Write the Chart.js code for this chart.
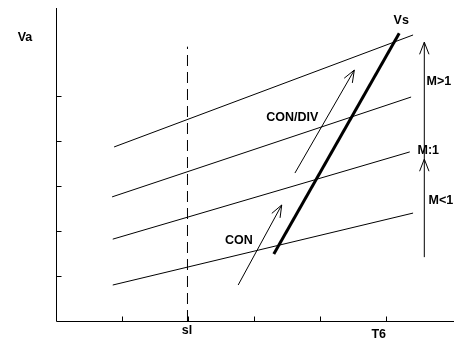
<!DOCTYPE html>
<html>
<head>
<meta charset="utf-8">
<script src="https://cdn.jsdelivr.net/npm/chart.js@4/dist/chart.umd.min.js"></script>
<style>
html,body{margin:0;padding:0;background:#fff;}
#c{display:block;}
</style>
</head>
<body>
<canvas id="c" width="466" height="357"></canvas>
<script>
// ---- data ----
const xMax = 6.03, yMax = 6.96;
const xTicks = [1, 2, 3, 4, 5];
const yTicks = [1, 2, 3, 4, 5];

const machLine1X = [0.88, 5.41], machLine1Y = [3.87, 6.36];
const machLine2X = [0.85, 5.38], machLine2Y = [2.76, 4.98];
const machLine3X = [0.86, 5.36], machLine3Y = [1.82, 3.76];
const machLine4X = [0.86, 5.41], machLine4Y = [0.80, 2.40];
const vsX = [3.30, 5.20], vsY = [1.49, 6.40];
const conArrowX = [2.76, 3.42], conArrowY = [0.80, 2.58];
const conDivArrowX = [3.62, 4.52], conDivArrowY = [3.29, 5.58];
const machArrowX = [5.58, 5.58, 5.58], machArrowY = [1.42, 3.60, 6.20];
const slX = [1.992, 1.992], slY = [0, 6.10];

const labelTexts = ['Va', 'Vs', 'M>1', 'M:1', 'M<1', 'CON/DIV', 'CON', 'sl', 'T6'];
const labelX = [-0.47, 5.23, 5.80, 5.64, 5.83, 3.58, 2.77, 1.985, 4.89];
const labelY = [6.31, 6.69, 5.33, 3.78, 2.67, 4.53, 1.80, -0.22, -0.31];

// ---- build datasets ----
function pts(xs, ys) { return xs.map((x, i) => ({x: x, y: ys[i]})); }
function seg(xs, ys, extra) {
  return Object.assign({
    data: pts(xs, ys), showLine: true, borderColor: '#000', borderWidth: 1,
    pointRadius: 0, fill: false, tension: 0
  }, extra || {});
}

const datasets = [
  seg(machLine1X, machLine1Y),
  seg(machLine2X, machLine2Y),
  seg(machLine3X, machLine3Y),
  seg(machLine4X, machLine4Y),
  seg(vsX, vsY, {borderWidth: 3}),
  seg(conArrowX, conArrowY),
  seg(conDivArrowX, conDivArrowY),
  seg(machArrowX, machArrowY),
  seg(slX, slY, {borderDash: [11, 6]})
];

// arrowheads: [xsArray, ysArray, fromIndex, toIndex]
const arrowHeads = [
  [conArrowX, conArrowY, 0, 1],
  [conDivArrowX, conDivArrowY, 0, 1],
  [machArrowX, machArrowY, 0, 1],
  [machArrowX, machArrowY, 1, 2]
];

const decor = {
  id: 'decor',
  afterDraw(chart) {
    const ctx = chart.ctx, xs = chart.scales.x, ys = chart.scales.y;
    const px = v => xs.getPixelForValue(v), py = v => ys.getPixelForValue(v);
    ctx.save();
    ctx.strokeStyle = '#000';
    ctx.lineWidth = 1;
    // axes
    const x0 = Math.round(px(0)) + 0.5, y0 = Math.round(py(0)) + 0.5;
    ctx.beginPath();
    ctx.moveTo(x0, Math.round(py(yMax)));
    ctx.lineTo(x0, y0);
    ctx.lineTo(Math.round(px(xMax)), y0);
    ctx.stroke();
    // tick marks (inside)
    ctx.beginPath();
    yTicks.forEach(t => { const y = Math.round(py(t)) + 0.5; ctx.moveTo(x0, y); ctx.lineTo(x0 + 5, y); });
    xTicks.forEach(t => { const x = Math.round(px(t)) + 0.5; ctx.moveTo(x, y0); ctx.lineTo(x, y0 - 5); });
    ctx.stroke();
    // arrowheads
    arrowHeads.forEach(a => {
      const [ax, ay, i0, i1] = a;
      const x1 = px(ax[i0]), y1 = py(ay[i0]), x2 = px(ax[i1]), y2 = py(ay[i1]);
      const ang = Math.atan2(y2 - y1, x2 - x1);
      const L = 13, spread = 0.37;
      ctx.beginPath();
      ctx.moveTo(x2 - L * Math.cos(ang - spread), y2 - L * Math.sin(ang - spread));
      ctx.lineTo(x2, y2);
      ctx.lineTo(x2 - L * Math.cos(ang + spread), y2 - L * Math.sin(ang + spread));
      ctx.stroke();
    });
    // labels
    ctx.fillStyle = '#000';
    ctx.font = 'bold 12.5px "Liberation Sans", Arial, sans-serif';
    ctx.textAlign = 'center';
    ctx.textBaseline = 'middle';
    labelTexts.forEach((t, i) => ctx.fillText(t, px(labelX[i]), py(labelY[i])));
    ctx.restore();
  }
};

new Chart(document.getElementById('c'), {
  type: 'scatter',
  data: {datasets: datasets},
  options: {
    responsive: false,
    animation: false,
    events: [],
    layout: {padding: {left: 56, right: 12, top: 8, bottom: 36}},
    plugins: {legend: {display: false}, tooltip: {enabled: false}},
    scales: {
      x: {type: 'linear', min: 0, max: xMax, display: false},
      y: {type: 'linear', min: 0, max: yMax, display: false}
    }
  },
  plugins: [decor]
});
</script>
</body>
</html>
